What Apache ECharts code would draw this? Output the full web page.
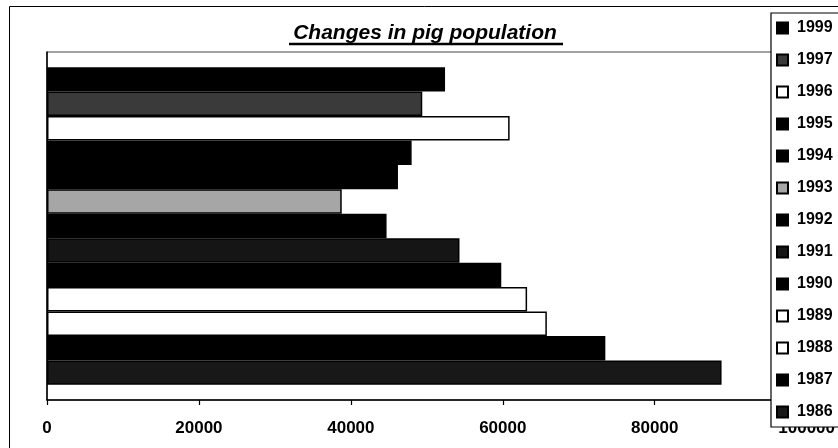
<!DOCTYPE html>
<html>
<head>
<meta charset="utf-8">
<script src="https://cdn.jsdelivr.net/npm/echarts@6/dist/echarts.min.js"></script>
<style>
  html, body { margin: 0; padding: 0; background: #fff; }
  #chart { width: 838px; height: 448px; }
</style>
</head>
<body>
<div id="chart"></div>
<script>
// Data (top bar first)
const years = ['1999', '1997', '1996', '1995', '1994', '1993', '1992', '1991', '1990', '1989', '1988', '1987', '1986'];
const pigs = [52400, 49400, 60900, 48000, 46200, 38800, 44700, 54300, 59800, 63200, 65800, 73500, 88800];
const category = [''];
const axisMin = 0;
const axisMax = 100000;
const axisStep = 20000;

// Styles (kept apart from data)
const fills = ['#000000', '#3a3a3a', '#ffffff', '#000000', '#000000', '#a6a6a6', '#000000',
               '#151515', '#000000', '#ffffff', '#ffffff', '#000000', '#181818'];

const FONT = '"Liberation Sans", Arial, sans-serif';

const chart = echarts.init(document.getElementById('chart'), null, { renderer: 'canvas' });

const series = years.map((y, i) => ({
  name: y,
  type: 'bar',
  data: [pigs[i]],
  barGap: '0%',
  barCategoryGap: '8.7%',
  itemStyle: { color: fills[i], borderColor: '#000', borderWidth: 1.5 },
  emphasis: { disabled: true },
  animation: false
}));

chart.setOption({
  animation: false,
  backgroundColor: '#ffffff',
  title: {
    text: 'Changes in pig population',
    left: 425,
    top: 23,
    padding: 0,
    textAlign: 'center',
    textStyle: { fontFamily: FONT, fontSize: 21, fontWeight: 'bold', fontStyle: 'italic', color: '#000' }
  },
  graphic: [
    { type: 'rect', silent: true, z: -1, shape: { x: 9.5, y: 6.5, width: 900, height: 500 },
      style: { fill: null, stroke: '#000', lineWidth: 1 } },
    { type: 'line', silent: true, shape: { x1: 289, y1: 44, x2: 563, y2: 44 },
      style: { stroke: '#000', lineWidth: 2.5 } }
  ],
  legend: {
    orient: 'vertical',
    left: 771,
    top: 13,
    padding: [7, 60, 7, 5],
    itemGap: 16,
    itemWidth: 11,
    itemHeight: 11,
    icon: 'rect',
    backgroundColor: '#ffffff',
    borderColor: '#000',
    borderWidth: 1.2,
    z: 10,
    selectedMode: false,
    data: years,
    textStyle: { fontFamily: FONT, fontSize: 16, fontWeight: 'bold', color: '#000', lineHeight: 16, padding: [0, 0, 0, 4] }
  },
  grid: {
    left: 47, right: 23, top: 52, bottom: 48,
    show: true, borderColor: '#444', borderWidth: 1, backgroundColor: 'transparent'
  },
  xAxis: {
    type: 'value',
    min: axisMin, max: axisMax, interval: axisStep,
    splitLine: { show: false },
    axisLine: { show: true, lineStyle: { color: '#000', width: 1.5 } },
    axisTick: { show: true, length: 5, lineStyle: { color: '#000', width: 1.2 } },
    axisLabel: { margin: 20, fontFamily: FONT, fontSize: 17, fontWeight: 'bold', color: '#000',
                 formatter: function (v) { return String(v); } }
  },
  yAxis: {
    type: 'category',
    data: category,
    axisLine: { show: true, lineStyle: { color: '#000', width: 1.5 } },
    axisTick: { show: false },
    axisLabel: { show: false },
    splitLine: { show: false }
  },
  series: series
});
</script>
</body>
</html>
